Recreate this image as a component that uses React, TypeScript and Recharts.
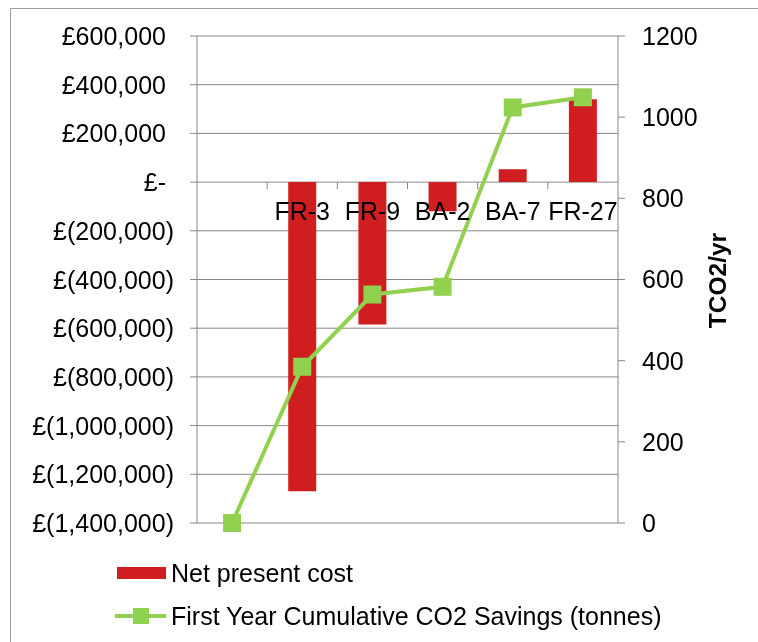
import { ComposedChart, Bar, Line, XAxis, YAxis, CartesianGrid, Label } from 'recharts'

// categories (first slot is the empty baseline point)
const projects = ['', 'FR-3', 'FR-9', 'BA-2', 'BA-7', 'FR-27']
const netPresentCost = [null, -1270000, -585000, -120000, 53000, 340000]
const co2Savings = [0, 385, 563, 582, 1024, 1049]

const costTicks = [-1400000, -1200000, -1000000, -800000, -600000, -400000, -200000, 0, 200000, 400000, 600000]
const co2Ticks = [0, 200, 400, 600, 800, 1000, 1200]

const seriesNames = ['Net present cost', 'First Year Cumulative CO2 Savings (tonnes)']

const data = projects.map((name, i) => ({
  name,
  cost: netPresentCost[i],
  co2: co2Savings[i],
}))

const W = 750
const H = 634
const PLOT_TOP = 28
const PLOT_LEFT = 189
const PLOT_RIGHT = 610
const PLOT_BOTTOM = 515
const PLOT_H = PLOT_BOTTOM - PLOT_TOP
const BAND = (PLOT_RIGHT - PLOT_LEFT) / projects.length
const ZERO_Y = PLOT_TOP + PLOT_H * (costTicks[costTicks.length - 1] / (costTicks[costTicks.length - 1] - costTicks[0]))

const FONT = '"Liberation Sans", Arial, sans-serif'
const FS = 25
const AXIS = '#868686'
const RED = '#d01e20'
const GREEN = '#92d050'

const fmtCost = (v: number) => {
  if (v === 0) return '£-'
  const s = Math.abs(v).toLocaleString('en-GB')
  return v < 0 ? `£(${s})` : `£${s}`
}

const CostTick = (props: any) => {
  const { x, y, payload } = props
  const v = payload.value
  return (
    <text x={x - (v >= 0 ? 8 : 0)} y={y} dy="0.36em" textAnchor="end" fontSize={FS} fontFamily={FONT} fill="#000">
      {fmtCost(v)}
    </text>
  )
}

const CategoryTick = (props: any) => {
  const { x, payload, index } = props
  return (
    <g>
      {index > 0 && (
        <line x1={x - BAND / 2} x2={x - BAND / 2} y1={ZERO_Y} y2={ZERO_Y + 7} stroke={AXIS} strokeWidth={1} />
      )}
      <text x={x} y={ZERO_Y + 38} textAnchor="middle" fontSize={FS} fontFamily={FONT} fill="#000">
        {payload.value}
      </text>
    </g>
  )
}

const SquareDot = (props: any) => {
  const { cx, cy } = props
  if (cx == null || cy == null) return null
  return <rect x={cx - 9} y={cy - 9} width={18} height={18} fill={GREEN} />
}

const App = () => {
  return (
    <div style={{ position: 'fixed', left: 0, top: 0, width: 758, height: 642, overflow: 'hidden' }}>
      <div style={{ position: 'absolute', left: 8, top: 8, width: W, height: H }}>
        <div
          style={{
            position: 'absolute',
            left: 2,
            top: 0,
            width: W + 10,
            height: H + 10,
            borderTop: '1px solid #a0a0a0',
            borderLeft: '1px solid #a0a0a0',
            boxSizing: 'border-box',
          }}
        />
        <ComposedChart
          width={W}
          height={H}
          data={data}
          margin={{ top: PLOT_TOP, right: 0, bottom: H - PLOT_BOTTOM - 1, left: 0 }}
          barCategoryGap="30%"
          style={{ position: 'absolute', left: 0, top: 0 }}
        >
          <CartesianGrid yAxisId="left" vertical={false} stroke={AXIS} strokeWidth={1} />
          <XAxis dataKey="name" height={1} axisLine={false} tickLine={false} tick={<CategoryTick />} interval={0} />
          <YAxis
            yAxisId="left"
            width={PLOT_LEFT}
            domain={[costTicks[0], costTicks[costTicks.length - 1]]}
            ticks={costTicks}
            interval={0}
            tick={<CostTick />}
            tickSize={7}
            tickMargin={16}
            axisLine={{ stroke: AXIS }}
            tickLine={{ stroke: AXIS }}
          />
          <YAxis
            yAxisId="right"
            orientation="right"
            width={W - PLOT_RIGHT}
            domain={[co2Ticks[0], co2Ticks[co2Ticks.length - 1]]}
            ticks={co2Ticks}
            interval={0}
            tickSize={7}
            tickMargin={17}
            tick={{ fontSize: FS, fontFamily: FONT, fill: '#000', textAnchor: 'start' }}
            axisLine={{ stroke: AXIS }}
            tickLine={{ stroke: AXIS }}
          >
            <Label
              content={({ viewBox }: any) => {
                const cx = viewBox.x + 99
                const cy = viewBox.y + viewBox.height / 2 + 1
                return (
                  <text
                    x={cx}
                    y={cy}
                    transform={`rotate(-90 ${cx} ${cy})`}
                    textAnchor="middle"
                    dy="0.36em"
                    fontSize={24.5}
                    fontWeight="bold"
                    fontFamily={FONT}
                    fill="#000"
                  >
                    TCO2/yr
                  </text>
                )
              }}
            />
          </YAxis>
          <Bar yAxisId="left" dataKey="cost" name={seriesNames[0]} fill={RED} isAnimationActive={false} />
          <Line
            yAxisId="right"
            dataKey="co2"
            name={seriesNames[1]}
            stroke={GREEN}
            strokeWidth={4}
            dot={<SquareDot />}
            activeDot={false}
            isAnimationActive={false}
          />
        </ComposedChart>
        <svg width={W} height={H - PLOT_BOTTOM} style={{ position: 'absolute', left: 0, top: PLOT_BOTTOM }}>
          <rect x={109} y={559 - PLOT_BOTTOM} width={49} height={12} fill={RED} />
          <text x={163} y={565 - PLOT_BOTTOM} dy="0.36em" fontSize={FS} fontFamily={FONT} fill="#000">
            {seriesNames[0]}
          </text>
          <line x1={107} x2={158} y1={608 - PLOT_BOTTOM} y2={608 - PLOT_BOTTOM} stroke={GREEN} strokeWidth={4} />
          <rect x={125} y={600 - PLOT_BOTTOM} width={16} height={16} fill={GREEN} />
          <text x={163} y={608 - PLOT_BOTTOM} dy="0.36em" fontSize={FS} fontFamily={FONT} fill="#000">
            {seriesNames[1]}
          </text>
        </svg>
      </div>
    </div>
  )
}

export default App
